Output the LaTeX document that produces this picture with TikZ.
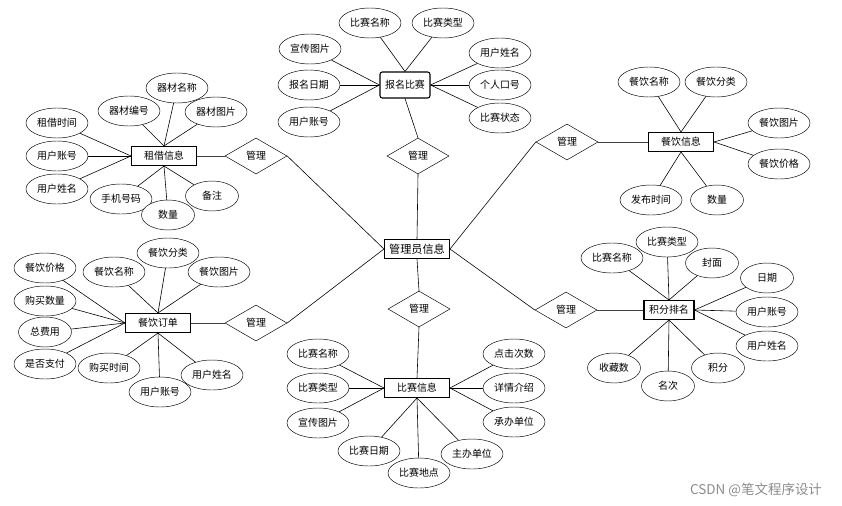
\documentclass[tikz,border=0pt]{standalone}
\usepackage{fontspec}
\setmainfont{Noto Sans CJK SC}
\usetikzlibrary{shapes.geometric}

\begin{document}
\begin{tikzpicture}[x=0.03cm, y=-0.03cm,
  attr/.style={draw, fill=white, ellipse, inner sep=0pt, minimum width=1.86cm, minimum height=0.9cm, font=\fontsize{8.5}{10}\selectfont},
  sattr/.style={attr, minimum width=1.59cm},
  ent/.style={draw, fill=white, line width=0.9pt, inner sep=0pt, minimum width=1.95cm, minimum height=0.57cm, font=\fontsize{8.5}{10}\selectfont},
  rel/.style={draw, fill=white, diamond, inner sep=0pt, minimum width=1.86cm, minimum height=1.08cm, font=\fontsize{8.5}{10}\selectfont},
  link/.style={line width=0.5pt},
  rlink/.style={line width=0.8pt, black!75}]
  \useasboundingbox (0,0) rectangle (842,505);

  % centre
  \node[ent, font=\fontsize{9.5}{11}\selectfont] (admin) at (417,249) {管理员信息};

  % 报名比赛
  \node[ent, rounded corners=2pt, minimum width=1.5cm, minimum height=0.78cm] (sign) at (405,85) {报名比赛};
  \node[rel] (rsign) at (418,156) {管理};
  \node[attr] (sign1) at (370,23) {比赛名称};
  \node[attr] (sign2) at (443,23) {比赛类型};
  \node[attr] (sign3) at (310,49) {宣传图片};
  \node[attr] (sign4) at (309,85) {报名日期};
  \node[attr] (sign5) at (309,122) {用户账号};
  \node[attr] (sign6) at (500,53) {用户姓名};
  \node[attr] (sign7) at (500,85) {个人口号};
  \node[attr] (sign8) at (500,118) {比赛状态};
  \draw[link] (sign.north) -- (sign1);
  \draw[link] (sign.north) -- (sign2);
  \draw[link] (sign.west) -- (sign3);
  \draw[link] (sign.west) -- (sign4);
  \draw[link] (sign.west) -- (sign5);
  \draw[link] (sign.east) -- (sign6);
  \draw[link] (sign.east) -- (sign7);
  \draw[link] (sign.east) -- (sign8);
  \draw[link] (sign.south) -- (rsign.north);
  \draw[link] (rsign.south) -- (admin.north);

  % 租借信息
  \node[ent] (lease) at (164,156) {租借信息};
  \node[rel] (rlease) at (256,156) {管理};
  \node[attr] (lease1) at (177,88) {器材名称};
  \node[attr] (lease2) at (129,111) {器材编号};
  \node[attr] (lease3) at (216,112) {器材图片};
  \node[attr] (lease4) at (57,123) {租借时间};
  \node[attr] (lease5) at (57,156) {用户账号};
  \node[attr] (lease6) at (57,189) {用户姓名};
  \node[attr] (lease7) at (121,199) {手机号码};
  \node[sattr] (lease8) at (168,215) {数量};
  \node[sattr] (lease9) at (212,196) {备注};
  \draw[link] (lease.north) -- (lease1);
  \draw[link] (lease.north) -- (lease2);
  \draw[link] (lease.north) -- (lease3);
  \draw[link] (lease.west) -- (lease4);
  \draw[link] (lease.west) -- (lease5);
  \draw[link] (lease.west) -- (lease6);
  \draw[link] (lease.south) -- (lease7);
  \draw[link] (lease.south) -- (lease8);
  \draw[link] (lease.south) -- (lease9);
  \draw[rlink] (lease.east) -- (rlease.west);
  \draw[link] (rlease.east) -- (admin.west);

  % 餐饮信息
  \node[ent] (food) at (681,142) {餐饮信息};
  \node[rel] (rfood) at (567,142) {管理};
  \node[attr] (food1) at (649,82) {餐饮名称};
  \node[attr] (food2) at (716,82) {餐饮分类};
  \node[attr] (food3) at (779,123) {餐饮图片};
  \node[attr] (food4) at (779,164) {餐饮价格};
  \node[attr] (food5) at (651,200) {发布时间};
  \node[sattr] (food6) at (717,200) {数量};
  \draw[link] (food.north) -- (food1);
  \draw[link] (food.north) -- (food2);
  \draw[link] (food.east) -- (food3);
  \draw[link] (food.east) -- (food4);
  \draw[link] (food.south) -- (food5);
  \draw[link] (food.south) -- (food6);
  \draw[rlink] (food.west) -- (rfood.east);
  \draw[link] (rfood.west) -- (admin.east);

  % 餐饮订单
  \node[ent] (order) at (158,323) {餐饮订单};
  \node[rel] (rorder) at (256,323) {管理};
  \node[attr] (order1) at (45,268) {餐饮价格};
  \node[attr] (order2) at (45,301) {购买数量};
  \node[sattr] (order3) at (45,332) {总费用};
  \node[attr] (order4) at (45,364) {是否支付};
  \node[attr] (order5) at (114,272) {餐饮名称};
  \node[attr] (order6) at (168,253) {餐饮分类};
  \node[attr] (order7) at (219,272) {餐饮图片};
  \node[attr] (order8) at (109,368) {购买时间};
  \node[attr] (order9) at (212,375) {用户姓名};
  \node[attr] (order10) at (160,392) {用户账号};
  \draw[link] (order.west) -- (order1);
  \draw[link] (order.west) -- (order2);
  \draw[link] (order.west) -- (order3);
  \draw[link] (order.west) -- (order4);
  \draw[link] (order.north) -- (order5);
  \draw[link] (order.north) -- (order6);
  \draw[link] (order.north) -- (order7);
  \draw[link] (order.south) -- (order8);
  \draw[link] (order.south) -- (order9);
  \draw[link] (order.south) -- (order10);
  \draw[rlink] (order.east) -- (rorder.west);
  \draw[link] (rorder.east) -- (admin.west);

  % 比赛信息
  \node[ent] (match) at (417,388) {比赛信息};
  \node[rel] (rmatch) at (419,309) {管理};
  \node[attr] (match1) at (318,354) {比赛名称};
  \node[attr] (match2) at (318,388) {比赛类型};
  \node[attr] (match3) at (318,423) {宣传图片};
  \node[attr] (match4) at (369,451) {比赛日期};
  \node[attr] (match5) at (472,454) {主办单位};
  \node[attr] (match6) at (419,473) {比赛地点};
  \node[attr] (match7) at (514,354) {点击次数};
  \node[attr] (match8) at (514,388) {详情介绍};
  \node[attr] (match9) at (514,422) {承办单位};
  \draw[link] (match.west) -- (match1);
  \draw[link] (match.west) -- (match2);
  \draw[link] (match.west) -- (match3);
  \draw[link] (match.south) -- (match4);
  \draw[link] (match.south) -- (match5);
  \draw[link] (match.south) -- (match6);
  \draw[link] (match.east) -- (match7);
  \draw[link] (match.east) -- (match8);
  \draw[link] (match.east) -- (match9);
  \draw[link] (admin.south) -- (rmatch.north);
  \draw[link] (rmatch.south) -- (match.north);

  % 积分排名
  \node[ent, minimum width=1.5cm] (rank) at (669,310) {积分排名};
  \node[rel] (rrank) at (566,310) {管理};
  \node[attr] (rank1) at (612,258) {比赛名称};
  \node[attr] (rank2) at (667,242) {比赛类型};
  \node[sattr] (rank3) at (712,263) {封面};
  \node[sattr] (rank4) at (767,278) {日期};
  \node[attr] (rank5) at (767,312) {用户账号};
  \node[attr] (rank6) at (767,346) {用户姓名};
  \node[sattr] (rank7) at (614,368) {收藏数};
  \node[sattr] (rank8) at (668,386) {名次};
  \node[sattr] (rank9) at (718,368) {积分};
  \draw[link] (rank.north) -- (rank1);
  \draw[link] (rank.north) -- (rank2);
  \draw[link] (rank.north) -- (rank3);
  \draw[link] (rank.east) -- (rank4);
  \draw[link] (rank.east) -- (rank5);
  \draw[link] (rank.east) -- (rank6);
  \draw[link] (rank.south) -- (rank7);
  \draw[link] (rank.south) -- (rank8);
  \draw[link] (rank.south) -- (rank9);
  \draw[rlink] (rank.west) -- (rrank.east);
  \draw[link] (rrank.west) -- (admin.east);

  \node[text=black!45, font=\fontsize{11.5}{13}\selectfont] (mark) at (756,490) {CSDN @笔文程序设计};
\end{tikzpicture}
\end{document}
